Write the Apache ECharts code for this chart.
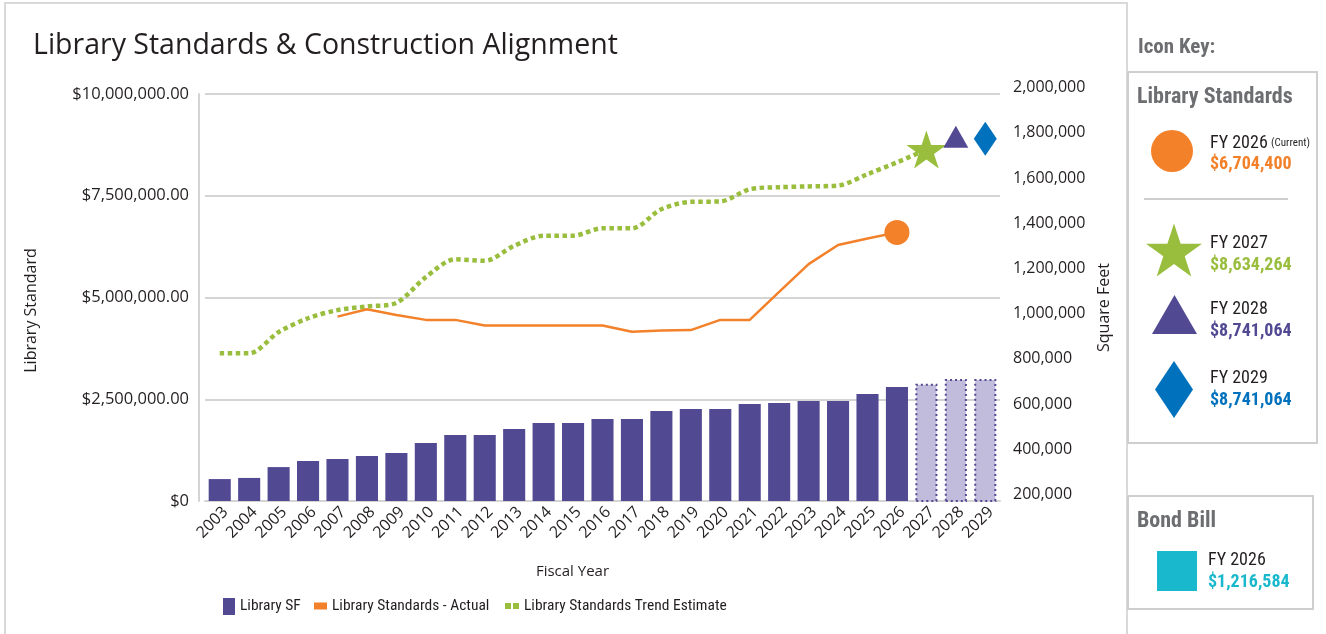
<!DOCTYPE html>
<html>
<head>
<meta charset="utf-8">
<script src="https://cdn.jsdelivr.net/npm/echarts@6/dist/echarts.min.js"></script>
<style>
html,body{margin:0;padding:0;background:#fff;}
#chart{width:1326px;height:634px;}
</style>
</head>
<body>
<div id="chart"></div>
<script>
const years = ['2003','2004','2005','2006','2007','2008','2009','2010','2011','2012','2013','2014','2015','2016','2017','2018','2019','2020','2021','2022','2023','2024','2025','2026','2027','2028','2029'];
const librarySF = [297000,302000,350000,377000,386000,399000,412000,457000,492000,492000,518000,545000,545000,563000,563000,598000,607000,607000,629000,633000,642000,642000,673000,704000,719000,740000,740000];
const projectedFromIndex = 24;
const standardsActual = [null,null,null,null,4530000,4710000,4570000,4450000,4450000,4310000,4310000,4310000,4310000,4310000,4160000,4190000,4200000,4450000,4450000,5140000,5820000,6290000,6450000,6600000,null,null,null];
const trendEstimate = [3630000,3630000,4150000,4490000,4690000,4780000,4870000,5500000,5940000,5900000,6270000,6520000,6520000,6700000,6700000,7170000,7350000,7360000,7660000,7710000,7730000,7750000,8030000,8320000,8634264,null,null];
const futureYears = ['2027','2028','2029'];
const futureStandards = [8634264,8950000,8900000];
const leftTicks = {min:0,max:10000000,interval:2500000};
const rightTicks = {min:200000,max:2000000,interval:200000};
const seriesNames = ['Library SF','Library Standards - Actual','Library Standards Trend Estimate'];
const keyItems = [
  {fy:'FY 2026', note:'(Current)', value:'$6,704,400'},
  {fy:'FY 2027', note:'', value:'$8,634,264'},
  {fy:'FY 2028', note:'', value:'$8,741,064'},
  {fy:'FY 2029', note:'', value:'$8,741,064'}
];
const bondItem = {fy:'FY 2026', value:'$1,216,584'};

const C_PURPLE='#514a93', C_LAV='#c1bcdc', C_ORANGE='#f3812a', C_GREEN='#99bd3c', C_BLUE='#0071bc', C_CYAN='#19b8cd', C_TEXT='#231f20', C_GREY='#6d6e71', C_LINE='#d4d4d4';
const FONT='"Open Sans", "Noto Sans", sans-serif';
const NFONT='"Liberation Sans Narrow", "Roboto Condensed", Roboto, sans-serif';

const STAR='path://M50,0 L61.23,34.55 L97.55,34.55 L68.16,55.9 L79.39,90.45 L50,69.1 L20.61,90.45 L31.84,55.9 L2.45,34.55 L38.77,34.55 Z';
function starPts(cx,cy,w,h){
  const raw=[[50,0],[61.23,34.55],[97.55,34.55],[68.16,55.9],[79.39,90.45],[50,69.1],[20.61,90.45],[31.84,55.9],[2.45,34.55],[38.77,34.55]];
  return raw.map(p=>[cx+(p[0]-50)/95.1*w, cy+(p[1]-45.2)/90.45*h]);
}
function money(v){ return v===0?'$0':'$'+v.toLocaleString('en-US',{minimumFractionDigits:2,maximumFractionDigits:2}); }

const chart = echarts.init(document.getElementById('chart'), null, {renderer:'canvas'});

const barData = librarySF.map((v,i)=> i>=projectedFromIndex ? {value:v,itemStyle:{color:C_LAV,borderColor:C_PURPLE,borderWidth:2,borderType:[2,3]}} : v);
const actualData = standardsActual.map((v,i)=> (i===23) ? {value:v,symbol:'circle',symbolSize:25,itemStyle:{color:C_ORANGE}} : v);
const markerSymbols=[STAR,'triangle','diamond'];
const markerSizes=[[40,38],[25,22],[23,34]];
const markerColors=[C_GREEN,C_PURPLE,C_BLUE];
const markerData = futureYears.map((y,i)=>({value:[y,futureStandards[i]],symbol:markerSymbols[i],symbolSize:markerSizes[i],itemStyle:{color:markerColors[i],opacity:1}}));

function txt(x,y,text,size,color,weight,font){
  return {type:'text',x:x,y:y,style:{text:text,fontSize:size,fill:color,fontWeight:weight||'normal',fontFamily:font||NFONT,verticalAlign:'middle'}};
}
const keyTX=1210;
const graphics = [
  {type:'rect',shape:{x:5,y:3,width:1122,height:640},style:{fill:'none',stroke:'#d9d9d9',lineWidth:2},z:-10},
  txt(1138,48,'Icon Key:',21,C_GREY,'bold'),
  {type:'rect',shape:{x:1128,y:72,width:189,height:371},style:{fill:'#fff',stroke:'#cfcfcf',lineWidth:2}},
  txt(1137,97,'Library Standards',22,C_GREY,'bold'),
  {type:'circle',shape:{cx:1172,cy:151,r:21},style:{fill:C_ORANGE}},
  {type:'text',x:keyTX,y:143,style:{text:'{a|'+keyItems[0].fy+'} {b|'+keyItems[0].note+'}',verticalAlign:'middle',rich:{a:{fontSize:18,fill:C_TEXT,fontFamily:NFONT},b:{fontSize:11,fill:C_TEXT,fontFamily:NFONT}}}},
  txt(keyTX,164,keyItems[0].value,18,C_ORANGE,'bold'),
  {type:'line',shape:{x1:1144,y1:199,x2:1288,y2:199},style:{stroke:'#cfcfcf',lineWidth:2}},
  {type:'polygon',shape:{points:starPts(1174,250,56,53)},style:{fill:C_GREEN}},
  txt(keyTX,243,keyItems[1].fy,18,C_TEXT),
  txt(keyTX,265,keyItems[1].value,18,C_GREEN,'bold'),
  {type:'polygon',shape:{points:[[1174.5,295],[1197,334],[1152,334]]},style:{fill:C_PURPLE}},
  txt(keyTX,309,keyItems[2].fy,18,C_TEXT),
  txt(keyTX,331,keyItems[2].value,18,C_PURPLE,'bold'),
  {type:'polygon',shape:{points:[[1174,361],[1193,389.5],[1174,418],[1155,389.5]]},style:{fill:C_BLUE}},
  txt(keyTX,378,keyItems[3].fy,18,C_TEXT),
  txt(keyTX,400,keyItems[3].value,18,C_BLUE,'bold'),
  {type:'rect',shape:{x:1128,y:496,width:185,height:113},style:{fill:'#fff',stroke:'#cfcfcf',lineWidth:2}},
  txt(1137,521,'Bond Bill',22,C_GREY,'bold'),
  {type:'rect',shape:{x:1157,y:551,width:40,height:40},style:{fill:C_CYAN}},
  txt(1208,560,bondItem.fy,18,C_TEXT),
  txt(1208,582,bondItem.value,18,C_CYAN,'bold')
];

function legendAt(left,name,icon,w,color){
  return {left:left,top:598,padding:0,itemWidth:w,itemHeight:17,itemGap:0,
    textStyle:{fontSize:15.5,color:C_TEXT,fontFamily:NFONT},
    data:[{name:name,icon:icon,itemStyle:{color:color}}]};
}

const option = {
  animation:false,
  backgroundColor:'#fff',
  textStyle:{fontFamily:FONT,color:C_TEXT},
  title:{text:'Library Standards & Construction Alignment',left:28,top:26,textStyle:{fontSize:28.5,fontWeight:'normal',color:C_TEXT,fontFamily:FONT}},
  grid:{left:205,right:326,top:94,bottom:133,containLabel:false},
  legend:[
    legendAt(223,seriesNames[0],'path://M0,0h12v17h-12z',12,C_PURPLE),
    legendAt(314,seriesNames[1],'path://M0,0h13v7h-13z',13,C_ORANGE),
    legendAt(505,seriesNames[2],'path://M0,0h6v6h-6z M8,0h6v6h-6z',14,C_GREEN)
  ],
  xAxis:{
    type:'category',data:years,
    name:'Fiscal Year',nameLocation:'middle',nameGap:63,
    nameTextStyle:{fontSize:15,color:C_TEXT,padding:[0,60,0,0]},
    axisLine:{lineStyle:{color:C_LINE,width:2}},
    axisTick:{show:false},
    axisLabel:{rotate:45,fontSize:16,color:C_TEXT,margin:3,interval:0,verticalAlign:'top'}
  },
  yAxis:[
    {type:'value',position:'left',offset:6,min:leftTicks.min,max:leftTicks.max,interval:leftTicks.interval,
     name:'Library Standard',nameLocation:'middle',nameGap:160,nameRotate:90,
     nameTextStyle:{fontSize:16,color:C_TEXT,padding:[0,26,0,0]},
     axisLine:{show:true,lineStyle:{color:C_LINE,width:2}},axisTick:{show:false},
     axisLabel:{fontSize:16.5,color:C_TEXT,margin:10,formatter:money},
     splitLine:{show:true,lineStyle:{color:C_LINE,width:2}}},
    {type:'value',position:'right',min:rightTicks.min,max:rightTicks.max,interval:rightTicks.interval,
     name:'Square Feet',nameLocation:'middle',nameGap:96,nameRotate:90,
     nameTextStyle:{fontSize:16,color:C_TEXT,padding:[0,20,0,0]},
     axisLine:{show:false},axisTick:{show:false},splitLine:{show:false},
     axisLabel:{fontSize:16,color:C_TEXT,margin:13,verticalAlign:'bottom',lineHeight:13,formatter:v=>v.toLocaleString('en-US')}}
  ],
  series:[
    {name:seriesNames[0],type:'bar',yAxisIndex:1,data:barData,barCategoryGap:'25%',itemStyle:{color:C_PURPLE},z:2},
    {name:seriesNames[1],type:'line',yAxisIndex:0,data:actualData,symbol:'none',showSymbol:true,
     lineStyle:{color:C_ORANGE,width:2.5},itemStyle:{color:C_ORANGE},connectNulls:false,z:4},
    {name:seriesNames[2],type:'line',yAxisIndex:0,data:trendEstimate,symbol:'none',smooth:0.3,
     lineStyle:{color:C_GREEN,width:4.5,type:[4.5,3.5],cap:'butt'},itemStyle:{color:C_GREEN},z:3},
    {name:'markers',type:'scatter',yAxisIndex:0,data:markerData,z:5}
  ],
  graphic:graphics
};
chart.setOption(option);
</script>
</body>
</html>
